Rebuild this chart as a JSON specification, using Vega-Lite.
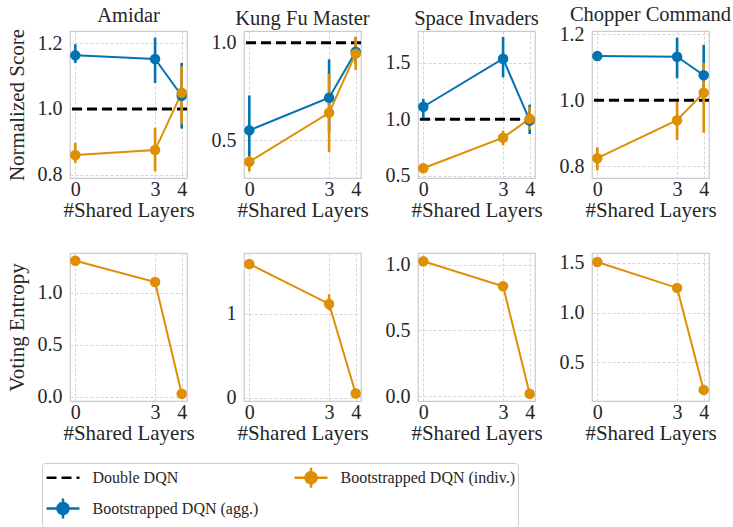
{
"$schema": "https://vega.github.io/schema/vega-lite/v6.json",
"padding": {"left": 5, "top": 4, "right": 5, "bottom": 2},
"background": "white",
"datasets": {
"score": [
{"game":"Amidar","x":0,"method":"Bootstrapped DQN (agg.)","mean":1.163,"lo":1.14,"hi":1.197},
{"game":"Amidar","x":3,"method":"Bootstrapped DQN (agg.)","mean":1.152,"lo":1.079,"hi":1.217},
{"game":"Amidar","x":4,"method":"Bootstrapped DQN (agg.)","mean":1.04,"lo":0.94,"hi":1.14},
{"game":"Amidar","x":0,"method":"Bootstrapped DQN (indiv.)","mean":0.86,"lo":0.836,"hi":0.897},
{"game":"Amidar","x":3,"method":"Bootstrapped DQN (indiv.)","mean":0.875,"lo":0.81,"hi":0.943},
{"game":"Amidar","x":4,"method":"Bootstrapped DQN (indiv.)","mean":1.049,"lo":0.953,"hi":1.13},
{"game":"Kung Fu Master","x":0,"method":"Bootstrapped DQN (agg.)","mean":0.551,"lo":0.41,"hi":0.73},
{"game":"Kung Fu Master","x":3,"method":"Bootstrapped DQN (agg.)","mean":0.718,"lo":0.54,"hi":0.915},
{"game":"Kung Fu Master","x":4,"method":"Bootstrapped DQN (agg.)","mean":0.954,"lo":0.89,"hi":1.03},
{"game":"Kung Fu Master","x":0,"method":"Bootstrapped DQN (indiv.)","mean":0.39,"lo":0.34,"hi":0.42},
{"game":"Kung Fu Master","x":3,"method":"Bootstrapped DQN (indiv.)","mean":0.641,"lo":0.44,"hi":0.84},
{"game":"Kung Fu Master","x":4,"method":"Bootstrapped DQN (indiv.)","mean":0.944,"lo":0.86,"hi":1.03},
{"game":"Space Invaders","x":0,"method":"Bootstrapped DQN (agg.)","mean":1.111,"lo":1.01,"hi":1.18},
{"game":"Space Invaders","x":3,"method":"Bootstrapped DQN (agg.)","mean":1.535,"lo":1.37,"hi":1.727},
{"game":"Space Invaders","x":4,"method":"Bootstrapped DQN (agg.)","mean":0.99,"lo":0.87,"hi":1.13},
{"game":"Space Invaders","x":0,"method":"Bootstrapped DQN (indiv.)","mean":0.568,"lo":0.55,"hi":0.59},
{"game":"Space Invaders","x":3,"method":"Bootstrapped DQN (indiv.)","mean":0.838,"lo":0.77,"hi":0.9},
{"game":"Space Invaders","x":4,"method":"Bootstrapped DQN (indiv.)","mean":1.005,"lo":0.91,"hi":1.11},
{"game":"Chopper Command","x":0,"method":"Bootstrapped DQN (agg.)","mean":1.134,"lo":1.124,"hi":1.145},
{"game":"Chopper Command","x":3,"method":"Bootstrapped DQN (agg.)","mean":1.132,"lo":1.067,"hi":1.19},
{"game":"Chopper Command","x":4,"method":"Bootstrapped DQN (agg.)","mean":1.076,"lo":0.99,"hi":1.168},
{"game":"Chopper Command","x":0,"method":"Bootstrapped DQN (indiv.)","mean":0.825,"lo":0.788,"hi":0.858},
{"game":"Chopper Command","x":3,"method":"Bootstrapped DQN (indiv.)","mean":0.94,"lo":0.88,"hi":0.995},
{"game":"Chopper Command","x":4,"method":"Bootstrapped DQN (indiv.)","mean":1.023,"lo":0.902,"hi":1.114}
],
"ddqn": [
{"game":"Amidar","method":"Double DQN","value":1},
{"game":"Kung Fu Master","method":"Double DQN","value":1},
{"game":"Space Invaders","method":"Double DQN","value":1},
{"game":"Chopper Command","method":"Double DQN","value":1}
],
"entropy": [
{"game":"Amidar","x":0,"method":"Bootstrapped DQN (indiv.)","mean":1.31,"lo":1.3,"hi":1.32},
{"game":"Amidar","x":3,"method":"Bootstrapped DQN (indiv.)","mean":1.106,"lo":1.096,"hi":1.116},
{"game":"Amidar","x":4,"method":"Bootstrapped DQN (indiv.)","mean":0.03,"lo":0.025,"hi":0.035},
{"game":"Kung Fu Master","x":0,"method":"Bootstrapped DQN (indiv.)","mean":1.59,"lo":1.57,"hi":1.61},
{"game":"Kung Fu Master","x":3,"method":"Bootstrapped DQN (indiv.)","mean":1.114,"lo":1.04,"hi":1.23},
{"game":"Kung Fu Master","x":4,"method":"Bootstrapped DQN (indiv.)","mean":0.05,"lo":0.045,"hi":0.055},
{"game":"Space Invaders","x":0,"method":"Bootstrapped DQN (indiv.)","mean":1.025,"lo":1.015,"hi":1.035},
{"game":"Space Invaders","x":3,"method":"Bootstrapped DQN (indiv.)","mean":0.835,"lo":0.825,"hi":0.845},
{"game":"Space Invaders","x":4,"method":"Bootstrapped DQN (indiv.)","mean":0.017,"lo":0.012,"hi":0.022},
{"game":"Chopper Command","x":0,"method":"Bootstrapped DQN (indiv.)","mean":1.51,"lo":1.5,"hi":1.52},
{"game":"Chopper Command","x":3,"method":"Bootstrapped DQN (indiv.)","mean":1.248,"lo":1.238,"hi":1.258},
{"game":"Chopper Command","x":4,"method":"Bootstrapped DQN (indiv.)","mean":0.22,"lo":0.215,"hi":0.225}
]
},
"columns": 4,
"spacing": {"row": 75, "column": 57},
"bounds": "flush",
"concat": [
{
"title": "Amidar", "width": 117, "height": 147,
"layer": [
{"data": {"name": "ddqn"}, "transform": [{"filter": "datum.game === 'Amidar'"}],
 "mark": {"type": "rule", "strokeWidth": 3},
 "encoding": {
  "y": {"field": "value", "type": "quantitative", "scale": {"domain": [0.79, 1.237], "nice": false, "zero": false}, "axis": {"values": [0.8, 1.0, 1.2], "format": ".1f", "title": "Normalized Score"}},
  "strokeDash": {"field": "method", "type": "nominal", "scale": {"domain": ["Double DQN", "Bootstrapped DQN (agg.)", "Bootstrapped DQN (indiv.)"], "range": [[10, 5], [1, 0], [1, 0]]}},
  "color": {"field": "method", "type": "nominal", "scale": {"domain": ["Double DQN", "Bootstrapped DQN (agg.)", "Bootstrapped DQN (indiv.)"], "range": ["#000000", "#0173B2", "#DE8F05"]},
   "legend": {"title": null, "orient": "none", "legendX": -28, "legendY": 432, "columns": 2, "symbolSize": 400, "symbolOffset": 6.5, "symbolOpacity": 1, "symbolStrokeWidth": 2.5, "labelFont": "Liberation Serif", "labelFontSize": 16, "labelColor": "#262626", "labelLimit": 300, "labelOffset": 18, "columnPadding": 30, "rowPadding": 0, "padding": 3, "strokeColor": "#cccccc", "fillColor": "#ffffff", "cornerRadius": 3}}}},
{"data": {"name": "score"}, "transform": [{"filter": "datum.game === 'Amidar'"}],
 "mark": {"type": "point", "filled": true, "opacity": 0, "size": 110},
 "encoding": {
  "x": {"field": "x", "type": "quantitative", "scale": {"domain": [-0.2, 4.2], "nice": false, "zero": false}, "axis": {"values": [0, 3, 4], "title": "#Shared Layers"}},
  "y": {"field": "mean", "type": "quantitative", "scale": {"domain": [0.79, 1.237], "nice": false, "zero": false}, "axis": {"values": [0.8, 1.0, 1.2], "format": ".1f", "title": "Normalized Score"}},
  "shape": {"field": "method", "type": "nominal", "scale": {"domain": ["Double DQN", "Bootstrapped DQN (agg.)", "Bootstrapped DQN (indiv.)"], "range": ["M-1.65,0H1.65M0,-1M0,1", "M-1.65,0H1.65M0,-1V1M0.55,0A0.55,0.55,0,1,1,-0.55,0A0.55,0.55,0,1,1,0.55,0Z", "M-1.65,0H1.65M0,-1V1M0.55,0A0.55,0.55,0,1,1,-0.55,0A0.55,0.55,0,1,1,0.55,0Z"]}},
  "color": {"field": "method", "type": "nominal", "scale": {"domain": ["Double DQN", "Bootstrapped DQN (agg.)", "Bootstrapped DQN (indiv.)"], "range": ["#000000", "#0173B2", "#DE8F05"]}}}},
{"data": {"name": "score"}, "transform": [{"filter": "datum.game === 'Amidar'"}],
 "mark": {"type": "rule", "strokeWidth": 2.6},
 "encoding": {
  "x": {"field": "x", "type": "quantitative", "scale": {"domain": [-0.2, 4.2], "nice": false, "zero": false}, "axis": {"values": [0, 3, 4], "title": "#Shared Layers"}},
  "y": {"field": "lo", "type": "quantitative", "scale": {"domain": [0.79, 1.237], "nice": false, "zero": false}, "axis": {"values": [0.8, 1.0, 1.2], "format": ".1f", "title": "Normalized Score"}},
  "y2": {"field": "hi"},
  "color": {"field": "method", "type": "nominal", "scale": {"domain": ["Double DQN", "Bootstrapped DQN (agg.)", "Bootstrapped DQN (indiv.)"], "range": ["#000000", "#0173B2", "#DE8F05"]}}}},
{"data": {"name": "score"}, "transform": [{"filter": "datum.game === 'Amidar'"}],
 "mark": {"type": "line", "strokeWidth": 2},
 "encoding": {
  "x": {"field": "x", "type": "quantitative", "scale": {"domain": [-0.2, 4.2], "nice": false, "zero": false}, "axis": {"values": [0, 3, 4], "title": "#Shared Layers"}},
  "y": {"field": "mean", "type": "quantitative", "scale": {"domain": [0.79, 1.237], "nice": false, "zero": false}, "axis": {"values": [0.8, 1.0, 1.2], "format": ".1f", "title": "Normalized Score"}},
  "color": {"field": "method", "type": "nominal", "scale": {"domain": ["Double DQN", "Bootstrapped DQN (agg.)", "Bootstrapped DQN (indiv.)"], "range": ["#000000", "#0173B2", "#DE8F05"]}}}},
{"data": {"name": "score"}, "transform": [{"filter": "datum.game === 'Amidar'"}],
 "mark": {"type": "point", "filled": true, "opacity": 1, "size": 110},
 "encoding": {
  "x": {"field": "x", "type": "quantitative", "scale": {"domain": [-0.2, 4.2], "nice": false, "zero": false}, "axis": {"values": [0, 3, 4], "title": "#Shared Layers"}},
  "y": {"field": "mean", "type": "quantitative", "scale": {"domain": [0.79, 1.237], "nice": false, "zero": false}, "axis": {"values": [0.8, 1.0, 1.2], "format": ".1f", "title": "Normalized Score"}},
  "color": {"field": "method", "type": "nominal", "scale": {"domain": ["Double DQN", "Bootstrapped DQN (agg.)", "Bootstrapped DQN (indiv.)"], "range": ["#000000", "#0173B2", "#DE8F05"]}}}}
]
},
{
"title": "Kung Fu Master", "width": 117, "height": 147,
"layer": [
{"data": {"name": "ddqn"}, "transform": [{"filter": "datum.game === 'Kung Fu Master'"}],
 "mark": {"type": "rule", "strokeWidth": 3},
 "encoding": {
  "y": {"field": "value", "type": "quantitative", "scale": {"domain": [0.307, 1.06], "nice": false, "zero": false}, "axis": {"values": [0.5, 1.0], "format": ".1f", "title": null}},
  "strokeDash": {"field": "method", "type": "nominal", "scale": {"domain": ["Double DQN", "Bootstrapped DQN (agg.)", "Bootstrapped DQN (indiv.)"], "range": [[10, 5], [1, 0], [1, 0]]}},
  "color": {"field": "method", "type": "nominal", "scale": {"domain": ["Double DQN", "Bootstrapped DQN (agg.)", "Bootstrapped DQN (indiv.)"], "range": ["#000000", "#0173B2", "#DE8F05"]}}}},
{"data": {"name": "score"}, "transform": [{"filter": "datum.game === 'Kung Fu Master'"}],
 "mark": {"type": "rule", "strokeWidth": 2.6},
 "encoding": {
  "x": {"field": "x", "type": "quantitative", "scale": {"domain": [-0.2, 4.2], "nice": false, "zero": false}, "axis": {"values": [0, 3, 4], "title": "#Shared Layers"}},
  "y": {"field": "lo", "type": "quantitative", "scale": {"domain": [0.307, 1.06], "nice": false, "zero": false}, "axis": {"values": [0.5, 1.0], "format": ".1f", "title": null}},
  "y2": {"field": "hi"},
  "color": {"field": "method", "type": "nominal", "scale": {"domain": ["Double DQN", "Bootstrapped DQN (agg.)", "Bootstrapped DQN (indiv.)"], "range": ["#000000", "#0173B2", "#DE8F05"]}}}},
{"data": {"name": "score"}, "transform": [{"filter": "datum.game === 'Kung Fu Master'"}],
 "mark": {"type": "line", "strokeWidth": 2},
 "encoding": {
  "x": {"field": "x", "type": "quantitative", "scale": {"domain": [-0.2, 4.2], "nice": false, "zero": false}, "axis": {"values": [0, 3, 4], "title": "#Shared Layers"}},
  "y": {"field": "mean", "type": "quantitative", "scale": {"domain": [0.307, 1.06], "nice": false, "zero": false}, "axis": {"values": [0.5, 1.0], "format": ".1f", "title": null}},
  "color": {"field": "method", "type": "nominal", "scale": {"domain": ["Double DQN", "Bootstrapped DQN (agg.)", "Bootstrapped DQN (indiv.)"], "range": ["#000000", "#0173B2", "#DE8F05"]}}}},
{"data": {"name": "score"}, "transform": [{"filter": "datum.game === 'Kung Fu Master'"}],
 "mark": {"type": "point", "filled": true, "opacity": 1, "size": 110},
 "encoding": {
  "x": {"field": "x", "type": "quantitative", "scale": {"domain": [-0.2, 4.2], "nice": false, "zero": false}, "axis": {"values": [0, 3, 4], "title": "#Shared Layers"}},
  "y": {"field": "mean", "type": "quantitative", "scale": {"domain": [0.307, 1.06], "nice": false, "zero": false}, "axis": {"values": [0.5, 1.0], "format": ".1f", "title": null}},
  "color": {"field": "method", "type": "nominal", "scale": {"domain": ["Double DQN", "Bootstrapped DQN (agg.)", "Bootstrapped DQN (indiv.)"], "range": ["#000000", "#0173B2", "#DE8F05"]}}}}
]
},
{
"title": "Space Invaders", "width": 117, "height": 147,
"layer": [
{"data": {"name": "ddqn"}, "transform": [{"filter": "datum.game === 'Space Invaders'"}],
 "mark": {"type": "rule", "strokeWidth": 3},
 "encoding": {
  "y": {"field": "value", "type": "quantitative", "scale": {"domain": [0.482, 1.78], "nice": false, "zero": false}, "axis": {"values": [0.5, 1.0, 1.5], "format": ".1f", "title": null}},
  "strokeDash": {"field": "method", "type": "nominal", "scale": {"domain": ["Double DQN", "Bootstrapped DQN (agg.)", "Bootstrapped DQN (indiv.)"], "range": [[10, 5], [1, 0], [1, 0]]}},
  "color": {"field": "method", "type": "nominal", "scale": {"domain": ["Double DQN", "Bootstrapped DQN (agg.)", "Bootstrapped DQN (indiv.)"], "range": ["#000000", "#0173B2", "#DE8F05"]}}}},
{"data": {"name": "score"}, "transform": [{"filter": "datum.game === 'Space Invaders'"}],
 "mark": {"type": "rule", "strokeWidth": 2.6},
 "encoding": {
  "x": {"field": "x", "type": "quantitative", "scale": {"domain": [-0.2, 4.2], "nice": false, "zero": false}, "axis": {"values": [0, 3, 4], "title": "#Shared Layers"}},
  "y": {"field": "lo", "type": "quantitative", "scale": {"domain": [0.482, 1.78], "nice": false, "zero": false}, "axis": {"values": [0.5, 1.0, 1.5], "format": ".1f", "title": null}},
  "y2": {"field": "hi"},
  "color": {"field": "method", "type": "nominal", "scale": {"domain": ["Double DQN", "Bootstrapped DQN (agg.)", "Bootstrapped DQN (indiv.)"], "range": ["#000000", "#0173B2", "#DE8F05"]}}}},
{"data": {"name": "score"}, "transform": [{"filter": "datum.game === 'Space Invaders'"}],
 "mark": {"type": "line", "strokeWidth": 2},
 "encoding": {
  "x": {"field": "x", "type": "quantitative", "scale": {"domain": [-0.2, 4.2], "nice": false, "zero": false}, "axis": {"values": [0, 3, 4], "title": "#Shared Layers"}},
  "y": {"field": "mean", "type": "quantitative", "scale": {"domain": [0.482, 1.78], "nice": false, "zero": false}, "axis": {"values": [0.5, 1.0, 1.5], "format": ".1f", "title": null}},
  "color": {"field": "method", "type": "nominal", "scale": {"domain": ["Double DQN", "Bootstrapped DQN (agg.)", "Bootstrapped DQN (indiv.)"], "range": ["#000000", "#0173B2", "#DE8F05"]}}}},
{"data": {"name": "score"}, "transform": [{"filter": "datum.game === 'Space Invaders'"}],
 "mark": {"type": "point", "filled": true, "opacity": 1, "size": 110},
 "encoding": {
  "x": {"field": "x", "type": "quantitative", "scale": {"domain": [-0.2, 4.2], "nice": false, "zero": false}, "axis": {"values": [0, 3, 4], "title": "#Shared Layers"}},
  "y": {"field": "mean", "type": "quantitative", "scale": {"domain": [0.482, 1.78], "nice": false, "zero": false}, "axis": {"values": [0.5, 1.0, 1.5], "format": ".1f", "title": null}},
  "color": {"field": "method", "type": "nominal", "scale": {"domain": ["Double DQN", "Bootstrapped DQN (agg.)", "Bootstrapped DQN (indiv.)"], "range": ["#000000", "#0173B2", "#DE8F05"]}}}}
]
},
{
"title": {"text": "Chopper Command", "offset": -1}, "width": 117, "height": 147,
"layer": [
{"data": {"name": "ddqn"}, "transform": [{"filter": "datum.game === 'Chopper Command'"}],
 "mark": {"type": "rule", "strokeWidth": 3},
 "encoding": {
  "y": {"field": "value", "type": "quantitative", "scale": {"domain": [0.765, 1.21], "nice": false, "zero": false}, "axis": {"values": [0.8, 1.0, 1.2], "format": ".1f", "title": null}},
  "strokeDash": {"field": "method", "type": "nominal", "scale": {"domain": ["Double DQN", "Bootstrapped DQN (agg.)", "Bootstrapped DQN (indiv.)"], "range": [[10, 5], [1, 0], [1, 0]]}},
  "color": {"field": "method", "type": "nominal", "scale": {"domain": ["Double DQN", "Bootstrapped DQN (agg.)", "Bootstrapped DQN (indiv.)"], "range": ["#000000", "#0173B2", "#DE8F05"]}}}},
{"data": {"name": "score"}, "transform": [{"filter": "datum.game === 'Chopper Command'"}],
 "mark": {"type": "rule", "strokeWidth": 2.6},
 "encoding": {
  "x": {"field": "x", "type": "quantitative", "scale": {"domain": [-0.2, 4.2], "nice": false, "zero": false}, "axis": {"values": [0, 3, 4], "title": "#Shared Layers"}},
  "y": {"field": "lo", "type": "quantitative", "scale": {"domain": [0.765, 1.21], "nice": false, "zero": false}, "axis": {"values": [0.8, 1.0, 1.2], "format": ".1f", "title": null}},
  "y2": {"field": "hi"},
  "color": {"field": "method", "type": "nominal", "scale": {"domain": ["Double DQN", "Bootstrapped DQN (agg.)", "Bootstrapped DQN (indiv.)"], "range": ["#000000", "#0173B2", "#DE8F05"]}}}},
{"data": {"name": "score"}, "transform": [{"filter": "datum.game === 'Chopper Command'"}],
 "mark": {"type": "line", "strokeWidth": 2},
 "encoding": {
  "x": {"field": "x", "type": "quantitative", "scale": {"domain": [-0.2, 4.2], "nice": false, "zero": false}, "axis": {"values": [0, 3, 4], "title": "#Shared Layers"}},
  "y": {"field": "mean", "type": "quantitative", "scale": {"domain": [0.765, 1.21], "nice": false, "zero": false}, "axis": {"values": [0.8, 1.0, 1.2], "format": ".1f", "title": null}},
  "color": {"field": "method", "type": "nominal", "scale": {"domain": ["Double DQN", "Bootstrapped DQN (agg.)", "Bootstrapped DQN (indiv.)"], "range": ["#000000", "#0173B2", "#DE8F05"]}}}},
{"data": {"name": "score"}, "transform": [{"filter": "datum.game === 'Chopper Command'"}],
 "mark": {"type": "point", "filled": true, "opacity": 1, "size": 110},
 "encoding": {
  "x": {"field": "x", "type": "quantitative", "scale": {"domain": [-0.2, 4.2], "nice": false, "zero": false}, "axis": {"values": [0, 3, 4], "title": "#Shared Layers"}},
  "y": {"field": "mean", "type": "quantitative", "scale": {"domain": [0.765, 1.21], "nice": false, "zero": false}, "axis": {"values": [0.8, 1.0, 1.2], "format": ".1f", "title": null}},
  "color": {"field": "method", "type": "nominal", "scale": {"domain": ["Double DQN", "Bootstrapped DQN (agg.)", "Bootstrapped DQN (indiv.)"], "range": ["#000000", "#0173B2", "#DE8F05"]}}}}
]
},
{
"width": 117, "height": 148,
"layer": [
{"data": {"name": "entropy"}, "transform": [{"filter": "datum.game === 'Amidar'"}],
 "mark": {"type": "rule", "strokeWidth": 2.6},
 "encoding": {
  "x": {"field": "x", "type": "quantitative", "scale": {"domain": [-0.2, 4.2], "nice": false, "zero": false}, "axis": {"values": [0, 3, 4], "title": "#Shared Layers"}},
  "y": {"field": "lo", "type": "quantitative", "scale": {"domain": [-0.04, 1.385], "nice": false, "zero": false}, "axis": {"values": [0, 0.5, 1.0], "format": ".1f", "title": "Voting Entropy"}},
  "y2": {"field": "hi"},
  "color": {"field": "method", "type": "nominal", "scale": {"domain": ["Double DQN", "Bootstrapped DQN (agg.)", "Bootstrapped DQN (indiv.)"], "range": ["#000000", "#0173B2", "#DE8F05"]}}}},
{"data": {"name": "entropy"}, "transform": [{"filter": "datum.game === 'Amidar'"}],
 "mark": {"type": "line", "strokeWidth": 2},
 "encoding": {
  "x": {"field": "x", "type": "quantitative", "scale": {"domain": [-0.2, 4.2], "nice": false, "zero": false}, "axis": {"values": [0, 3, 4], "title": "#Shared Layers"}},
  "y": {"field": "mean", "type": "quantitative", "scale": {"domain": [-0.04, 1.385], "nice": false, "zero": false}, "axis": {"values": [0, 0.5, 1.0], "format": ".1f", "title": "Voting Entropy"}},
  "color": {"field": "method", "type": "nominal", "scale": {"domain": ["Double DQN", "Bootstrapped DQN (agg.)", "Bootstrapped DQN (indiv.)"], "range": ["#000000", "#0173B2", "#DE8F05"]}}}},
{"data": {"name": "entropy"}, "transform": [{"filter": "datum.game === 'Amidar'"}],
 "mark": {"type": "point", "filled": true, "opacity": 1, "size": 110},
 "encoding": {
  "x": {"field": "x", "type": "quantitative", "scale": {"domain": [-0.2, 4.2], "nice": false, "zero": false}, "axis": {"values": [0, 3, 4], "title": "#Shared Layers"}},
  "y": {"field": "mean", "type": "quantitative", "scale": {"domain": [-0.04, 1.385], "nice": false, "zero": false}, "axis": {"values": [0, 0.5, 1.0], "format": ".1f", "title": "Voting Entropy"}},
  "color": {"field": "method", "type": "nominal", "scale": {"domain": ["Double DQN", "Bootstrapped DQN (agg.)", "Bootstrapped DQN (indiv.)"], "range": ["#000000", "#0173B2", "#DE8F05"]}}}}
]
},
{
"width": 117, "height": 148,
"layer": [
{"data": {"name": "entropy"}, "transform": [{"filter": "datum.game === 'Kung Fu Master'"}],
 "mark": {"type": "rule", "strokeWidth": 2.6},
 "encoding": {
  "x": {"field": "x", "type": "quantitative", "scale": {"domain": [-0.2, 4.2], "nice": false, "zero": false}, "axis": {"values": [0, 3, 4], "title": "#Shared Layers"}},
  "y": {"field": "lo", "type": "quantitative", "scale": {"domain": [-0.04, 1.72], "nice": false, "zero": false}, "axis": {"values": [0, 1], "format": "d", "title": null}},
  "y2": {"field": "hi"},
  "color": {"field": "method", "type": "nominal", "scale": {"domain": ["Double DQN", "Bootstrapped DQN (agg.)", "Bootstrapped DQN (indiv.)"], "range": ["#000000", "#0173B2", "#DE8F05"]}}}},
{"data": {"name": "entropy"}, "transform": [{"filter": "datum.game === 'Kung Fu Master'"}],
 "mark": {"type": "line", "strokeWidth": 2},
 "encoding": {
  "x": {"field": "x", "type": "quantitative", "scale": {"domain": [-0.2, 4.2], "nice": false, "zero": false}, "axis": {"values": [0, 3, 4], "title": "#Shared Layers"}},
  "y": {"field": "mean", "type": "quantitative", "scale": {"domain": [-0.04, 1.72], "nice": false, "zero": false}, "axis": {"values": [0, 1], "format": "d", "title": null}},
  "color": {"field": "method", "type": "nominal", "scale": {"domain": ["Double DQN", "Bootstrapped DQN (agg.)", "Bootstrapped DQN (indiv.)"], "range": ["#000000", "#0173B2", "#DE8F05"]}}}},
{"data": {"name": "entropy"}, "transform": [{"filter": "datum.game === 'Kung Fu Master'"}],
 "mark": {"type": "point", "filled": true, "opacity": 1, "size": 110},
 "encoding": {
  "x": {"field": "x", "type": "quantitative", "scale": {"domain": [-0.2, 4.2], "nice": false, "zero": false}, "axis": {"values": [0, 3, 4], "title": "#Shared Layers"}},
  "y": {"field": "mean", "type": "quantitative", "scale": {"domain": [-0.04, 1.72], "nice": false, "zero": false}, "axis": {"values": [0, 1], "format": "d", "title": null}},
  "color": {"field": "method", "type": "nominal", "scale": {"domain": ["Double DQN", "Bootstrapped DQN (agg.)", "Bootstrapped DQN (indiv.)"], "range": ["#000000", "#0173B2", "#DE8F05"]}}}}
]
},
{
"width": 117, "height": 148,
"layer": [
{"data": {"name": "entropy"}, "transform": [{"filter": "datum.game === 'Space Invaders'"}],
 "mark": {"type": "rule", "strokeWidth": 2.6},
 "encoding": {
  "x": {"field": "x", "type": "quantitative", "scale": {"domain": [-0.2, 4.2], "nice": false, "zero": false}, "axis": {"values": [0, 3, 4], "title": "#Shared Layers"}},
  "y": {"field": "lo", "type": "quantitative", "scale": {"domain": [-0.038, 1.088], "nice": false, "zero": false}, "axis": {"values": [0, 0.5, 1.0], "format": ".1f", "title": null}},
  "y2": {"field": "hi"},
  "color": {"field": "method", "type": "nominal", "scale": {"domain": ["Double DQN", "Bootstrapped DQN (agg.)", "Bootstrapped DQN (indiv.)"], "range": ["#000000", "#0173B2", "#DE8F05"]}}}},
{"data": {"name": "entropy"}, "transform": [{"filter": "datum.game === 'Space Invaders'"}],
 "mark": {"type": "line", "strokeWidth": 2},
 "encoding": {
  "x": {"field": "x", "type": "quantitative", "scale": {"domain": [-0.2, 4.2], "nice": false, "zero": false}, "axis": {"values": [0, 3, 4], "title": "#Shared Layers"}},
  "y": {"field": "mean", "type": "quantitative", "scale": {"domain": [-0.038, 1.088], "nice": false, "zero": false}, "axis": {"values": [0, 0.5, 1.0], "format": ".1f", "title": null}},
  "color": {"field": "method", "type": "nominal", "scale": {"domain": ["Double DQN", "Bootstrapped DQN (agg.)", "Bootstrapped DQN (indiv.)"], "range": ["#000000", "#0173B2", "#DE8F05"]}}}},
{"data": {"name": "entropy"}, "transform": [{"filter": "datum.game === 'Space Invaders'"}],
 "mark": {"type": "point", "filled": true, "opacity": 1, "size": 110},
 "encoding": {
  "x": {"field": "x", "type": "quantitative", "scale": {"domain": [-0.2, 4.2], "nice": false, "zero": false}, "axis": {"values": [0, 3, 4], "title": "#Shared Layers"}},
  "y": {"field": "mean", "type": "quantitative", "scale": {"domain": [-0.038, 1.088], "nice": false, "zero": false}, "axis": {"values": [0, 0.5, 1.0], "format": ".1f", "title": null}},
  "color": {"field": "method", "type": "nominal", "scale": {"domain": ["Double DQN", "Bootstrapped DQN (agg.)", "Bootstrapped DQN (indiv.)"], "range": ["#000000", "#0173B2", "#DE8F05"]}}}}
]
},
{
"width": 117, "height": 148,
"layer": [
{"data": {"name": "entropy"}, "transform": [{"filter": "datum.game === 'Chopper Command'"}],
 "mark": {"type": "rule", "strokeWidth": 2.6},
 "encoding": {
  "x": {"field": "x", "type": "quantitative", "scale": {"domain": [-0.2, 4.2], "nice": false, "zero": false}, "axis": {"values": [0, 3, 4], "title": "#Shared Layers"}},
  "y": {"field": "lo", "type": "quantitative", "scale": {"domain": [0.108, 1.6], "nice": false, "zero": false}, "axis": {"values": [0.5, 1.0, 1.5], "format": ".1f", "title": null}},
  "y2": {"field": "hi"},
  "color": {"field": "method", "type": "nominal", "scale": {"domain": ["Double DQN", "Bootstrapped DQN (agg.)", "Bootstrapped DQN (indiv.)"], "range": ["#000000", "#0173B2", "#DE8F05"]}}}},
{"data": {"name": "entropy"}, "transform": [{"filter": "datum.game === 'Chopper Command'"}],
 "mark": {"type": "line", "strokeWidth": 2},
 "encoding": {
  "x": {"field": "x", "type": "quantitative", "scale": {"domain": [-0.2, 4.2], "nice": false, "zero": false}, "axis": {"values": [0, 3, 4], "title": "#Shared Layers"}},
  "y": {"field": "mean", "type": "quantitative", "scale": {"domain": [0.108, 1.6], "nice": false, "zero": false}, "axis": {"values": [0.5, 1.0, 1.5], "format": ".1f", "title": null}},
  "color": {"field": "method", "type": "nominal", "scale": {"domain": ["Double DQN", "Bootstrapped DQN (agg.)", "Bootstrapped DQN (indiv.)"], "range": ["#000000", "#0173B2", "#DE8F05"]}}}},
{"data": {"name": "entropy"}, "transform": [{"filter": "datum.game === 'Chopper Command'"}],
 "mark": {"type": "point", "filled": true, "opacity": 1, "size": 110},
 "encoding": {
  "x": {"field": "x", "type": "quantitative", "scale": {"domain": [-0.2, 4.2], "nice": false, "zero": false}, "axis": {"values": [0, 3, 4], "title": "#Shared Layers"}},
  "y": {"field": "mean", "type": "quantitative", "scale": {"domain": [0.108, 1.6], "nice": false, "zero": false}, "axis": {"values": [0.5, 1.0, 1.5], "format": ".1f", "title": null}},
  "color": {"field": "method", "type": "nominal", "scale": {"domain": ["Double DQN", "Bootstrapped DQN (agg.)", "Bootstrapped DQN (indiv.)"], "range": ["#000000", "#0173B2", "#DE8F05"]}}}}
]
}
],
"config": {
 "font": "Liberation Serif",
 "view": {"stroke": "#cccccc", "strokeWidth": 1.25},
 "axis": {"domain": false, "ticks": false, "grid": true, "gridColor": "#cccccc", "gridDash": [3, 2], "gridWidth": 0.8, "labelFont": "Liberation Serif", "labelFontSize": 20, "labelColor": "#262626", "titleFont": "Liberation Serif", "titleFontSize": 21, "titleFontWeight": "normal", "titleColor": "#262626"},
 "axisX": {"labelPadding": 1, "titlePadding": 0},
 "axisY": {"labelPadding": 8, "titlePadding": 10},
 "title": {"font": "Liberation Serif", "fontSize": 20.5, "fontWeight": "normal", "color": "#262626", "offset": 2, "frame": "group"}
}
}
